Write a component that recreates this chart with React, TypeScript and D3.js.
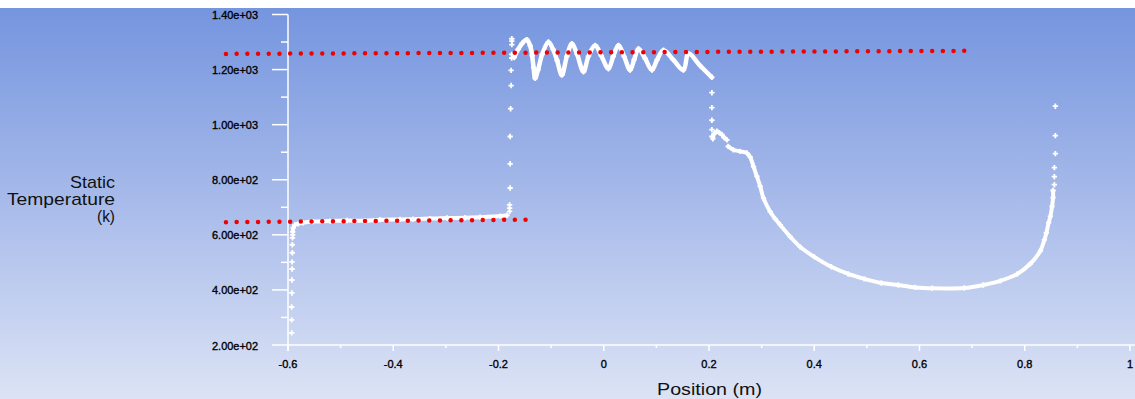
import React, { useEffect, useRef } from 'react';
import * as d3 from 'd3';

// position (m), static temperature (K)
const inletDrop: [number, number][] = [
  [-0.5930, 244], [-0.5930, 291], [-0.5930, 338], [-0.5926, 389], [-0.5926, 436],
  [-0.5922, 476], [-0.5922, 502], [-0.5918, 535], [-0.5918, 564], [-0.5914, 589], [-0.5910, 600],
];
const inletPlateau: [number, number][] = [
  [-0.5910, 611], [-0.5900, 625], [-0.5867, 636], [-0.5810, 640], [-0.5715, 644],
  [-0.5525, 648], [-0.5202, 650], [-0.4878, 652], [-0.4536, 651], [-0.4251, 655],
  [-0.3871, 656], [-0.3624, 657], [-0.3300, 659], [-0.2977, 661], [-0.2635, 662],
  [-0.2350, 664], [-0.1970, 668], [-0.1837, 671],
];
const shockRise: [number, number][] = [
  [-0.1789, 685], [-0.1789, 697], [-0.1789, 709], [-0.1779, 770], [-0.1779, 858],
  [-0.1779, 957], [-0.1770, 1058], [-0.1760, 1142], [-0.1760, 1197], [-0.1750, 1242],
  [-0.1750, 1255], [-0.1747, 1291], [-0.1747, 1303], [-0.1747, 1312],
];
const combustor: [number, number][] = [
  [-0.1703, 1244], [-0.1627, 1273], [-0.1551, 1295], [-0.1462, 1309], [-0.1399, 1287],
  [-0.1361, 1251], [-0.1333, 1207], [-0.1304, 1168], [-0.1247, 1200], [-0.1171, 1255],
  [-0.1051, 1300], [-0.0962, 1273], [-0.0886, 1233], [-0.0797, 1180], [-0.0701, 1248],
  [-0.0606, 1294], [-0.0506, 1255], [-0.0386, 1192], [-0.0291, 1248], [-0.0163, 1288],
  [-0.0049, 1251], [0.0089, 1203], [0.0179, 1247], [0.0280, 1288], [0.0388, 1247],
  [0.0502, 1198], [0.0578, 1236], [0.0660, 1276], [0.0787, 1240], [0.0915, 1198],
  [0.1015, 1236], [0.1135, 1270], [0.1319, 1236], [0.1515, 1198], [0.1610, 1258],
  [0.1833, 1214], [0.2055, 1172],
];
const shockDrop: [number, number][] = [
  [0.2055, 1116], [0.2055, 1062], [0.2055, 1016], [0.2055, 982], [0.2055, 957],
];
const hook: [number, number][] = [
  [0.2074, 949], [0.2099, 967], [0.2150, 976], [0.2194, 971], [0.2245, 964],
  [0.2289, 953], [0.2340, 945],
];
const nozzle: [number, number][] = [
  [0.2365, 921], [0.2460, 909], [0.2593, 903], [0.2720, 897], [0.2783, 882],
  [0.2846, 848], [0.2910, 812], [0.2973, 776], [0.3036, 733], [0.3163, 684],
  [0.3259, 658], [0.3354, 636], [0.3544, 593], [0.3734, 556], [0.4000, 520],
  [0.4323, 484], [0.4646, 458], [0.4951, 440], [0.5274, 425], [0.5597, 418],
  [0.5920, 409], [0.6243, 406], [0.6852, 407], [0.7213, 418], [0.7536, 433],
  [0.7859, 458], [0.8106, 495], [0.8297, 542], [0.8373, 582], [0.8411, 607],
  [0.8454, 644], [0.8487, 667], [0.8519, 703], [0.8538, 735], [0.8538, 761],
];
const exitRise: [number, number][] = [
  [0.8563, 782], [0.8563, 811], [0.8563, 844], [0.8582, 895], [0.8582, 960], [0.8582, 1067],
];

// red dotted reference lines drawn over the plot
const upperRef: [number, number][] = [[-0.7179, 1257], [0.6871, 1268]];
const lowerRef: [number, number][] = [[-0.7179, 646], [-0.1475, 655]];

const xMajor = [-0.6, -0.4, -0.2, 0, 0.2, 0.4, 0.6, 0.8, 1];
const xLabels = ['-0.6', '-0.4', '-0.2', '0', '0.2', '0.4', '0.6', '0.8', '1'];
const xMinor = [-0.5, -0.3, -0.1, 0.1, 0.3, 0.5, 0.7, 0.9];
const yMajor = [200, 400, 600, 800, 1000, 1200, 1400];
const yLabels = ['2.00e+02', '4.00e+02', '6.00e+02', '8.00e+02', '1.00e+03', '1.20e+03', '1.40e+03'];
const yMinor = [300, 500, 700, 900, 1100, 1300];

const width = 1135;
const height = 399;

export default function App() {
  const ref = useRef<SVGSVGElement>(null);

  useEffect(() => {
    const svg = d3.select(ref.current);
    svg.selectAll('*').remove();

    const x = d3.scaleLinear().domain([-0.6, 1]).range([288, 1130]);
    const y = d3.scaleLinear().domain([200, 1400]).range([345, 14.5]);

    const grad = svg.append('defs').append('linearGradient')
      .attr('id', 'bg').attr('x1', 0).attr('y1', 0).attr('x2', 0).attr('y2', 1);
    grad.append('stop').attr('offset', '0%').attr('stop-color', '#7595df');
    grad.append('stop').attr('offset', '50%').attr('stop-color', '#a8bbea');
    grad.append('stop').attr('offset', '100%').attr('stop-color', '#dce3f5');

    svg.append('rect').attr('width', width).attr('height', height).attr('fill', '#ffffff');
    svg.append('rect').attr('y', 8).attr('width', width).attr('height', height - 8).attr('fill', 'url(#bg)');

    const font = '"Liberation Sans", Arial, sans-serif';
    const axis = svg.append('g').attr('stroke', '#ffffff').attr('stroke-width', 1.5);

    // axes lines
    axis.append('line').attr('x1', x(-0.6)).attr('x2', width).attr('y1', y(200)).attr('y2', y(200));
    axis.append('line').attr('x1', x(-0.6)).attr('x2', x(-0.6)).attr('y1', y(1400)).attr('y2', y(200) + 6);

    axis.selectAll('.xmaj').data(xMajor).enter().append('line')
      .attr('x1', d => x(d)).attr('x2', d => x(d)).attr('y1', y(200)).attr('y2', y(200) + 6);
    axis.selectAll('.xmin').data(xMinor).enter().append('line')
      .attr('x1', d => x(d)).attr('x2', d => x(d)).attr('y1', y(200)).attr('y2', y(200) + 3);
    axis.selectAll('.ymaj').data(yMajor).enter().append('line')
      .attr('x1', x(-0.6) - 16).attr('x2', x(-0.6)).attr('y1', d => y(d)).attr('y2', d => y(d));
    axis.selectAll('.ymin').data(yMinor).enter().append('line')
      .attr('x1', x(-0.6) - 7).attr('x2', x(-0.6)).attr('y1', d => y(d)).attr('y2', d => y(d));

    svg.selectAll('.xlab').data(xMajor).enter().append('text')
      .attr('x', d => x(d)).attr('y', 368)
      .attr('text-anchor', 'middle')
      .style('font-family', font).style('font-size', '11px').style('fill', '#000')
      .style('stroke', '#000').style('stroke-width', 0.35)
      .text((_, i) => xLabels[i]);

    svg.selectAll('.ylab').data(yMajor).enter().append('text')
      .attr('x', 258).attr('y', d => y(d) + 4.5)
      .attr('text-anchor', 'end')
      .attr('textLength', 46).attr('lengthAdjust', 'spacingAndGlyphs')
      .style('font-family', font).style('font-size', '11px').style('fill', '#000')
      .style('stroke', '#000').style('stroke-width', 0.35)
      .text((_, i) => yLabels[i]);

    // axis titles
    svg.append('text').attr('x', 657).attr('y', 395)
      .attr('textLength', 105).attr('lengthAdjust', 'spacingAndGlyphs')
      .style('font-family', font).style('font-size', '17px').style('fill', '#111')
      .text('Position (m)');
    const ttl = [['Static', 188, 45], ['Temperature', 205, 108], ['(k)', 222, 18]] as [string, number, number][];
    ttl.forEach(([s, yy, w]) => {
      svg.append('text').attr('x', 115 - w).attr('y', yy)
        .attr('textLength', w).attr('lengthAdjust', 'spacingAndGlyphs')
        .style('font-family', font).style('font-size', '17px').style('fill', '#111')
        .text(s);
    });

    // data
    const smooth = d3.line<[number, number]>().x(d => x(d[0])).y(d => y(d[1])).curve(d3.curveCatmullRom.alpha(0.5));
    const line = d3.line<[number, number]>().x(d => x(d[0])).y(d => y(d[1]));
    [inletPlateau, combustor, hook, nozzle].forEach(seg => {
      svg.append('path').attr('d', smooth(seg))
        .attr('fill', 'none').attr('stroke', '#ffffff').attr('stroke-width', seg === combustor ? 4.5 : 4)
        .attr('stroke-linejoin', 'round').attr('stroke-linecap', 'round');
    });
    const cross = d3.symbol().type(d3.symbolCross).size(16);
    const all = [inletDrop, inletPlateau, shockRise, combustor, shockDrop, hook, nozzle, exitRise].flat();
    svg.selectAll('.pt').data(all).enter().append('path')
      .attr('d', cross)
      .attr('transform', d => `translate(${x(d[0])},${y(d[1])})`)
      .attr('fill', '#ffffff');

    // red dotted reference lines
    [upperRef, lowerRef].forEach(seg => {
      svg.append('path').attr('d', line(seg))
        .attr('fill', 'none').attr('stroke', '#f00000').attr('stroke-width', 4.5)
        .attr('stroke-linecap', 'round').attr('stroke-dasharray', '0 10.7');
    });
  }, []);

  return (
    <svg ref={ref} width={width} height={height}
      style={{ position: 'absolute', left: 0, top: 0, display: 'block' }} />
  );
}
